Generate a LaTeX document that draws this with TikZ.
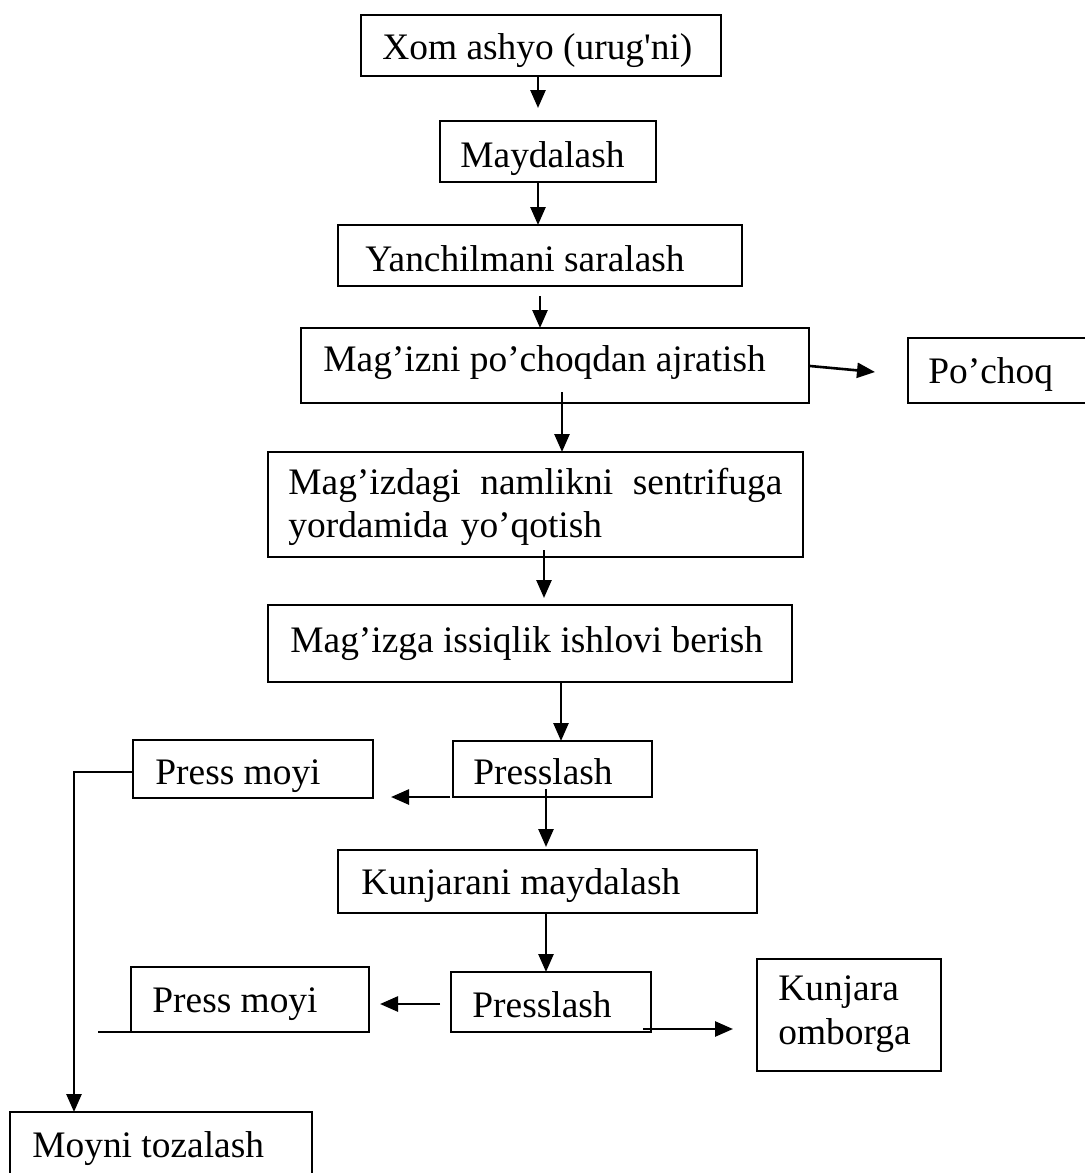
\documentclass[tikz,border=0pt]{standalone}
\usepackage{fontspec}
\newfontfamily\boxfont{Liberation Serif}
\usetikzlibrary{arrows.meta,calc}
\begin{document}
\begin{tikzpicture}[x=0.5pt,y=-0.5pt,
  box/.style={draw, line width=0.9pt, inner sep=0pt, outer sep=0pt, anchor=north west},
  lbl/.style={inner sep=0pt, anchor=base west, font=\boxfont\fontsize{18.7}{21.5}\selectfont},
  arr/.style={line width=1.3pt, -{Triangle[length=9pt,width=7.5pt]}},
  plain/.style={line width=1.2pt}]
\useasboundingbox[fill=white] (0,0) rectangle (1084,1173);

% process boxes
\node[box, minimum width=180pt,   minimum height=30.5pt] (b1)  at (361,15)   {};
\node[box, minimum width=108pt,   minimum height=30.5pt] (b2)  at (440,121)  {};
\node[box, minimum width=202pt,   minimum height=30.5pt] (b3)  at (338,225)  {};
\node[box, minimum width=254pt,   minimum height=37.5pt] (b4)  at (301,328)  {};
\node[box, minimum width=95pt,    minimum height=32.5pt] (pq)  at (908,338)  {};
\node[box, minimum width=267.5pt, minimum height=52.5pt] (b6)  at (268,452)  {};
\node[box, minimum width=262pt,   minimum height=38.5pt] (b7)  at (268,605)  {};
\node[box, minimum width=99.5pt,  minimum height=28pt]   (b8)  at (453,741)  {};
\node[box, minimum width=120pt,   minimum height=29pt]   (pm1) at (133,740)  {};
\node[box, minimum width=209.5pt, minimum height=31.5pt] (b9)  at (338,850)  {};
\node[box, minimum width=100pt,   minimum height=30pt]   (b10) at (451,972)  {};
\node[box, minimum width=119pt,   minimum height=32.5pt] (pm2) at (131,967)  {};
\node[box, minimum width=92pt,    minimum height=56pt]   (kj)  at (757,959)  {};
\node[box, minimum width=151pt,   minimum height=40pt]   (mt)  at (10,1112)  {};

% box texts
\node[lbl] (t1)  at ($(b1.north west)+(21,44)$)  {Xom ashyo (urug'ni)};
\node[lbl] (t2)  at ($(b2.north west)+(20,46)$)  {Maydalash};
\node[lbl] (t3)  at ($(b3.north west)+(27,46)$)  {Yanchilmani saralash};
\node[lbl] (t4)  at ($(b4.north west)+(22,43)$)  {Mag’izni po’choqdan ajratish};
\node[lbl] (tpq) at ($(pq.north west)+(20,45)$)  {Po’choq};
\node[lbl, text width=247pt, align=left] (t6) at ($(b6.north west)+(20,42)$)
  {Mag’izdagi\hfill namlikni\hfill sentrifuga\\yordamida yo’qotish};
\node[lbl] (t7)  at ($(b7.north west)+(22,47)$)  {Mag’izga issiqlik ishlovi berish};
\node[lbl] (t8)  at ($(b8.north west)+(20,43)$)  {Presslash};
\node[lbl] (tpm1) at ($(pm1.north west)+(22,44)$) {Press moyi};
\node[lbl] (t9)  at ($(b9.north west)+(23,44)$)  {Kunjarani maydalash};
\node[lbl] (t10) at ($(b10.north west)+(21,45)$) {Presslash};
\node[lbl] (tpm2) at ($(pm2.north west)+(21,45)$) {Press moyi};
\node[lbl, text width=70pt, align=left, font=\boxfont\fontsize{18.7}{22}\selectfont]
  (tkj) at ($(kj.north west)+(21,41)$) {Kunjara\\omborga};
\node[lbl] (tmt) at ($(mt.north west)+(22,45)$)  {Moyni tozalash};

% main flow
\draw[arr] ($(b1.south west)+(177,0)$)  -- ($(b2.north west)+(98,-13)$);
\draw[arr] ($(b2.south west)+(98,0)$)   -- ($(b3.north west)+(200,0)$);
\draw[arr] ($(b3.south west)+(202,10)$) -- ($(b4.north west)+(239,0)$);
\draw[arr] ($(b4.north east)+(1,38)$)   -- ($(pq.north west)+(-33,34)$);
\draw[arr] ($(b4.south west)+(261,-11)$) -- ($(b6.north west)+(294,0)$);
\draw[arr] ($(b6.south west)+(276,-7)$) -- ($(b7.north west)+(276,-7)$);
\draw[arr] ($(b7.south west)+(293,0)$)  -- ($(b8.north west)+(108,0)$);
\draw[arr] ($(b8.south west)+(-3,0)$)   -- ($(pm1.south east)+(18,-1)$);
\draw[arr] ($(b8.south west)+(93,-8)$)  -- ($(b9.north west)+(208,-3)$);
\draw[arr] ($(b9.south west)+(208,0)$)  -- ($(b10.north west)+(95,0)$);
\draw[arr] ($(b10.north west)+(-11,32)$) -- ($(pm2.north east)+(11,37)$);
\draw[arr] ($(b10.south east)+(-8,-3)$) -- ($(kj.north west)+(-24,70)$);

% oil line to cleaning
\draw[arr] ($(pm1.north west)+(0,32)$) -| ($(mt.north west)+(64,0)$);
\draw[plain] ($(pm2.south west)+(-33,0)$) -- ($(pm2.south west)+(27,0)$);
\end{tikzpicture}
\end{document}
